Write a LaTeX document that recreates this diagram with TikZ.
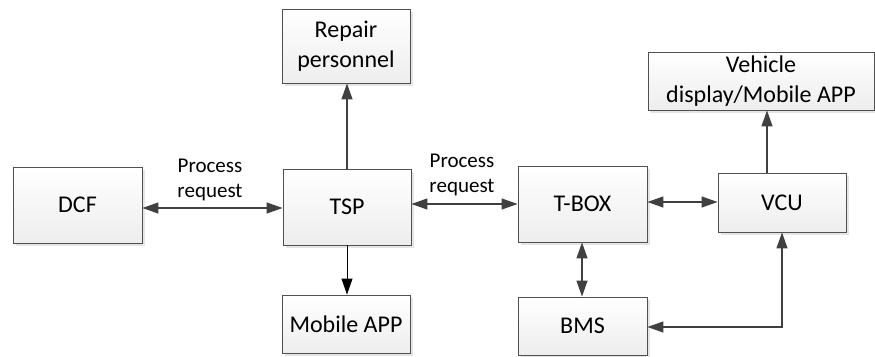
\documentclass[tikz,border=0pt]{standalone}
\usepackage{fontspec}
\setmainfont{Carlito}
\usetikzlibrary{arrows.meta,shadows,calc}
\definecolor{linegray}{HTML}{404040}
\definecolor{edgegray}{HTML}{505050}
\tikzset{
  box/.style={draw=edgegray, line width=0.9pt, top color=white, bottom color=black!7,
    drop shadow={shadow xshift=2.5pt, shadow yshift=-2.5pt, fill=black!10, opacity=1},
    align=center, inner sep=2pt, font=\fontsize{24}{30}\selectfont},
  tip/.style={Triangle[length=16pt,width=11pt]},
  link/.style={draw=linegray, line width=1.3pt, -{Triangle[length=16pt,width=11pt]}},
  dlink/.style={draw=linegray, line width=1.3pt,
    {Triangle[length=16pt,width=11pt]}-{Triangle[length=16pt,width=11pt]}},
  lbl/.style={align=center, font=\fontsize{21}{25}\selectfont, inner sep=0pt}
}
\begin{document}
\begin{tikzpicture}[x=1pt,y=-1pt]
\useasboundingbox (0,0) rectangle (875,356);
% blocks
\node[box, minimum width=129pt, minimum height=76pt] (dcf) at (77.5,205) {DCF};
\node[box, minimum width=128pt, minimum height=76pt] (tsp) at (347,207) {TSP};
\node[box, minimum width=128pt, minimum height=74pt] (rep) at (346,46) {Repair\\personnel};
\node[box, minimum width=128pt, minimum height=58pt] (mob) at (346,324) {Mobile APP};
\node[box, minimum width=129pt, minimum height=76pt] (tbox) at (582.5,204) {T-BOX};
\node[box, minimum width=128pt, minimum height=59pt] (vcu) at (782,202.5) {VCU};
\node[box, minimum width=226pt, minimum height=58pt] (veh) at (761,81) {Vehicle\\display/Mobile APP};
\node[box, minimum width=129pt, minimum height=58pt] (bms) at (582.5,326) {BMS};
% connectors
\coordinate (yA) at (0,208);
\coordinate (yB) at (0,204);
\coordinate (yC) at (0,202);
\coordinate (xT) at (347,0);
\coordinate (xV) at (767,0);
\coordinate (xW) at (782,0);
\coordinate (yD) at (0,327);
\coordinate (xB) at (582,0);
\draw[dlink] (dcf.east |- yA) -- (tsp.west |- yA);
\draw[dlink] (tsp.east |- yB) -- (tbox.west |- yB);
\draw[dlink] (tbox.east |- yC) -- (vcu.west |- yC);
\draw[link] (tsp.north -| xT) -- (rep.south -| xT);
\draw[link, draw=black, line width=1pt] (tsp.south -| xT) -- (mob.north -| xT);
\draw[link] (vcu.north -| xV) -- (veh.south -| xV);
\draw[dlink] (tbox.south -| xB) -- (bms.north -| xB);
\draw[dlink] (bms.east |- yD) -| (vcu.south -| xW);
% labels
\node[lbl] (l1) at (210,180) {Process\\request};
\node[lbl] (l2) at (462,175) {Process\\request};
\end{tikzpicture}
\end{document}
